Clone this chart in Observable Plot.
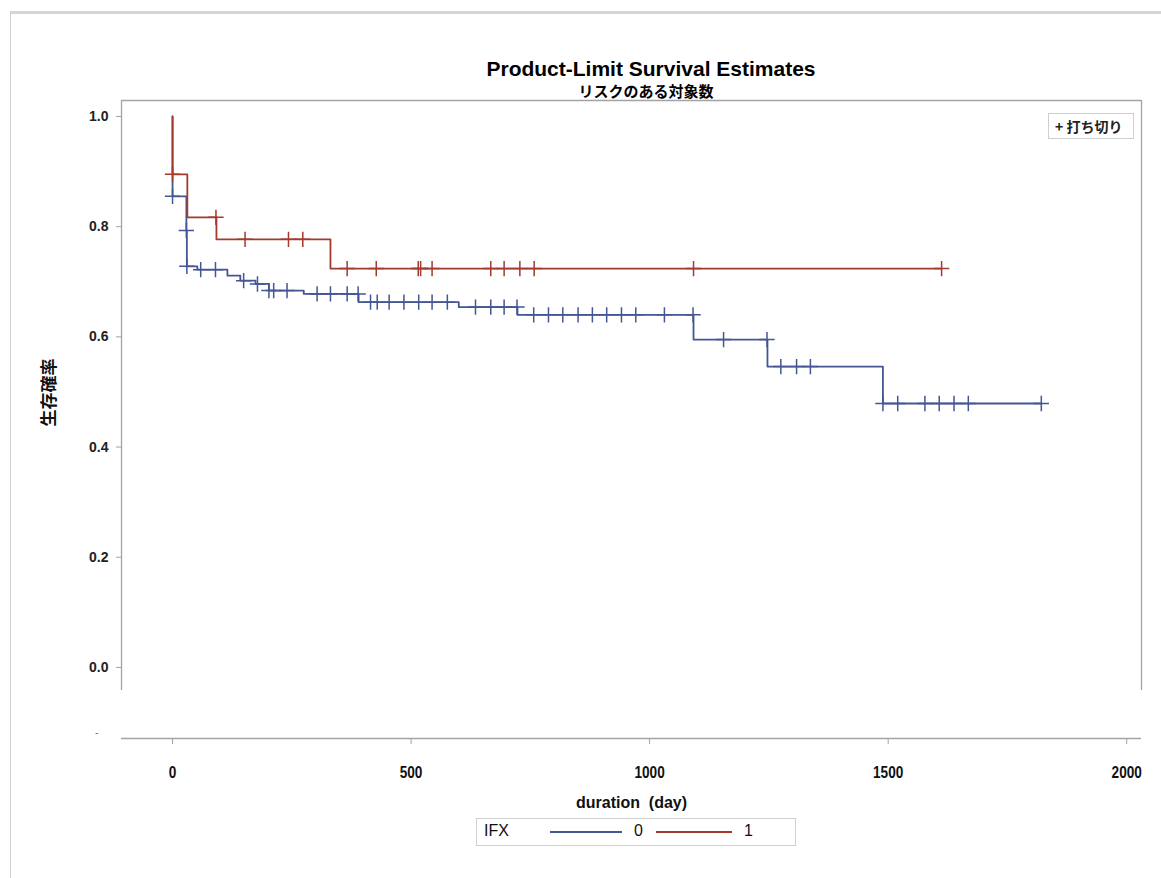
<!DOCTYPE html>
<html><head><meta charset="utf-8">
<script src="https://cdn.jsdelivr.net/npm/d3@7"></script>
<script src="https://cdn.jsdelivr.net/npm/@observablehq/plot@0.6"></script>
<style>
body{margin:0;background:#fff;}
#wrap{position:relative;width:1161px;height:878px;overflow:hidden;background:#fff;font-family:"Liberation Sans",Arial,sans-serif;}
#frame{position:absolute;left:10px;top:11px;width:1160px;height:880px;border-left:1px solid #cfcfcf;border-top:3px solid #d4d4d4;}
.t{position:absolute;white-space:nowrap;color:#000;}
#plot{position:absolute;left:0;top:0;}
</style></head>
<body><div id="wrap"><div id="frame"></div><div id="plot"></div></div>
<script>
// ---- data ----
const groups = ["0", "1"];
const groupColors = ["#445694", "#A23A2E"];
// Kaplan-Meier step points (days, survival) for IFX=0
const blueTimes = [0, 0, 29, 30, 52, 115, 142, 174, 202, 275, 390, 600, 723, 1092, 1247, 1489, 1821];
const blueSurv  = [1.0, 0.855, 0.793, 0.728, 0.722, 0.711, 0.702, 0.696, 0.684, 0.678, 0.663, 0.654, 0.640, 0.595, 0.546, 0.479, 0.479];
const blueCensor = [0, 29, 30, 59, 90, 149, 178, 202, 212, 240, 303, 331, 366, 389, 415, 429, 454, 485, 516, 544, 576, 635, 667, 695, 722,
  757, 788, 818, 850, 880, 910, 941, 971, 1031, 1091, 1155, 1246, 1275, 1308, 1337, 1489, 1520, 1577, 1607, 1638, 1668, 1821];
// IFX=1
const redTimes = [0, 0, 31, 92, 331, 1612];
const redSurv  = [1.0, 0.895, 0.817, 0.777, 0.724, 0.724];
const redCensor = [0, 91, 152, 243, 273, 366, 427, 515, 520, 544, 667, 695, 728, 758, 1092, 1612];
const xTicks = [0, 500, 1000, 1500, 2000];
const yTicks = [0, 0.2, 0.4, 0.6, 0.8, 1.0];
const xDomain = [-107, 2031];
const yDomain = [-0.129, 1.029];
const yAxisBottom = -0.0417;

// ---- build tables ----
const steps = [];
blueTimes.forEach((t, i) => steps.push({g: "0", t, s: blueSurv[i]}));
redTimes.forEach((t, i) => steps.push({g: "1", t, s: redSurv[i]}));
function survAt(times, surv, t) {
  let v = surv[0];
  for (let i = 0; i < times.length; i++) if (times[i] <= t) v = surv[i];
  return v;
}
const cens = [];
blueCensor.forEach(t => cens.push({g: "0", t, s: survAt(blueTimes, blueSurv, t)}));
redCensor.forEach(t => cens.push({g: "1", t, s: survAt(redTimes, redSurv, t)}));

const frameColor = "#a3a3a3";
const chart = Plot.plot({
  width: 1161, height: 820,
  marginLeft: 121, marginRight: 20, marginTop: 100, marginBottom: 82,
  style: {fontFamily: "'Liberation Sans', Arial, sans-serif", background: "transparent", overflow: "visible"},
  x: {domain: xDomain, ticks: xTicks},
  y: {domain: yDomain, ticks: yTicks},
  color: {domain: groups, range: groupColors},
  marks: [
    // frame
    Plot.ruleX([xDomain[0]], {y1: yAxisBottom, y2: yDomain[1], stroke: frameColor, strokeWidth: 1.3}),
    Plot.ruleX([xDomain[1]], {y1: yAxisBottom, y2: yDomain[1], stroke: frameColor, strokeWidth: 1.3}),
    Plot.ruleY([yDomain[1]], {x1: xDomain[0], x2: xDomain[1], stroke: frameColor, strokeWidth: 1.3}),
    Plot.ruleY([yDomain[0]], {x1: xDomain[0], x2: xDomain[1], stroke: frameColor, strokeWidth: 1.3}),
    Plot.axisY({ticks: yTicks, tickFormat: d3.format(".1f"), tickSize: 5, tickPadding: 8,
      stroke: frameColor, fontSize: 14, fontWeight: "bold", fill: "#222",
      label: "生存確率", labelAnchor: "center", labelOffset: 79, labelArrow: "none"}),
    Plot.axisX({ticks: xTicks, tickFormat: d3.format("d"), tickSize: 6, tickPadding: 22, stroke: frameColor,
      fontSize: 16, fontWeight: "bold", fill: "#111",
      label: "duration\u00a0\u00a0(day)", labelAnchor: "center", labelOffset: 69, labelArrow: "none"}),
    Plot.line(steps, {x: "t", y: "s", z: "g", stroke: "g", curve: "step-after", strokeWidth: 1.8}),
    Plot.dot(cens, {x: "t", y: "s", stroke: "g", symbol: "plus", r: 5, strokeWidth: 1.5})
  ]
});
// style axis label fonts
chart.querySelectorAll("g[aria-label='y-axis label'] text").forEach(el => {
  el.style.fontFamily = "'Noto Sans CJK JP', sans-serif";
  el.style.fontSize = "17px"; el.style.fontWeight = "bold"; el.setAttribute("fill", "#111");
  el.setAttribute("dx", "27");
});
chart.querySelectorAll("g[aria-label='x-axis label'] text").forEach(el => {
  el.style.fontSize = "16px"; el.style.fontWeight = "bold"; el.setAttribute("fill", "#111");
});
chart.querySelectorAll("g[aria-label='x-axis tick label'] text").forEach(el => {
  el.setAttribute("transform", (el.getAttribute("transform") || "") + " scale(0.85,1)");
});
document.getElementById("plot").appendChild(chart);

const wrap = document.getElementById("wrap");
function addText(txt, css) {
  const d = document.createElement("div"); d.className = "t"; d.textContent = txt;
  Object.assign(d.style, css); wrap.appendChild(d); return d;
}
addText("Product-Limit Survival Estimates", {left: "651px", top: "57px", transform: "translateX(-50%)",
  fontFamily: "'Liberation Sans', sans-serif", fontWeight: "bold", fontSize: "21px", lineHeight: "24px"});
addText("リスクのある対象数", {left: "646px", top: "82px", transform: "translateX(-50%)",
  fontFamily: "'Noto Sans CJK JP', sans-serif", fontWeight: "bold", fontSize: "15px", lineHeight: "17px"});
addText("-", {left: "95px", top: "726px", fontSize: "11px", color: "#777"});

// inset legend (censored)
const ins = document.createElement("div");
Object.assign(ins.style, {position: "absolute", left: "1048px", top: "113px", width: "86px", height: "26px",
  border: "1px solid #cfcfcf", boxSizing: "border-box", fontFamily: "'Noto Sans CJK JP', sans-serif",
  fontSize: "14px", fontWeight: "bold", color: "#222", lineHeight: "24px", paddingLeft: "6px", whiteSpace: "nowrap"});
ins.textContent = "+ 打ち切り";
wrap.appendChild(ins);

// bottom legend
const leg = document.createElement("div");
Object.assign(leg.style, {position: "absolute", left: "476px", top: "818px", width: "320px", height: "28px",
  border: "1px solid #cfcfcf", boxSizing: "border-box"});
wrap.appendChild(leg);
const legFont = {fontFamily: "'Liberation Sans', sans-serif", fontSize: "16px", color: "#111", top: "822px"};
addText("IFX", Object.assign({left: "484px"}, legFont));
const items = [{x: 550, w: 72, tx: 634}, {x: 656, w: 76, tx: 744}];
groups.forEach((g, i) => {
  const l = document.createElement("div");
  Object.assign(l.style, {position: "absolute", left: items[i].x + "px", top: "831px", width: items[i].w + "px",
    height: "2px", background: groupColors[i]});
  wrap.appendChild(l);
  addText(g, Object.assign({left: items[i].tx + "px"}, legFont));
});
</script></body></html>
